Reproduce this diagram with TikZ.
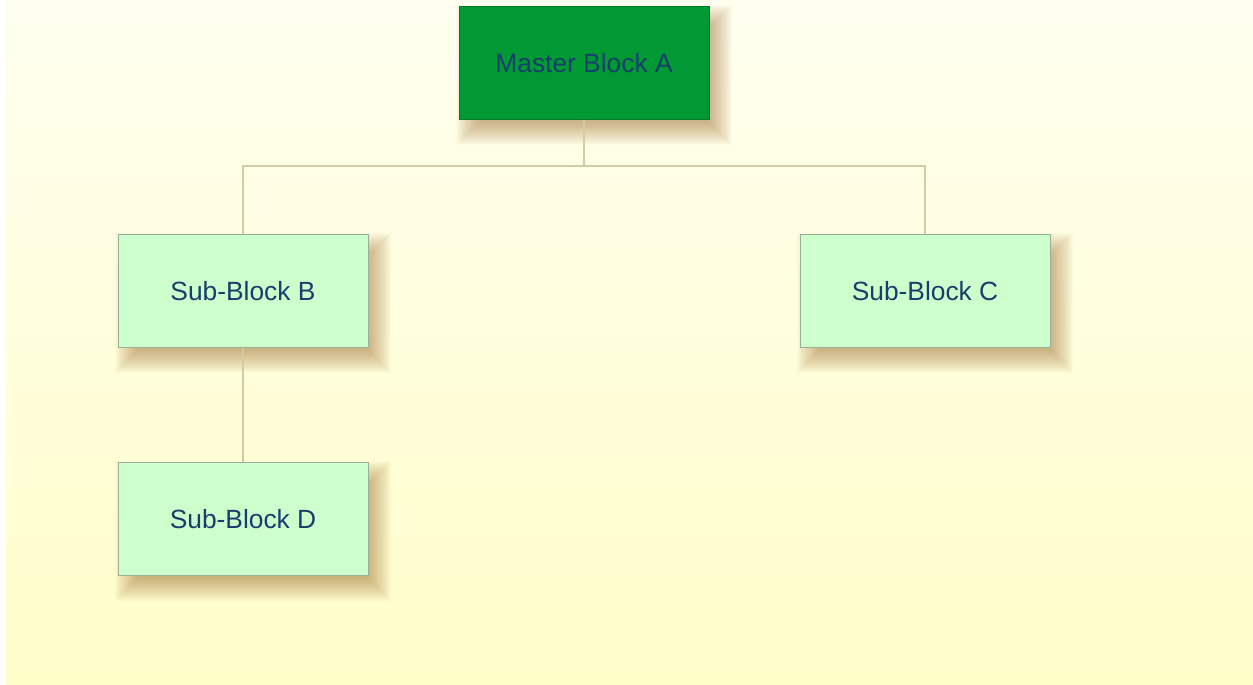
\documentclass[tikz,border=0pt]{standalone}
\usepackage{fontspec}
\setmainfont{Liberation Sans}
\usetikzlibrary{positioning,backgrounds}
\definecolor{bgtop}{HTML}{FFFFF0}
\definecolor{bgmid}{HTML}{FFFED4}
\definecolor{bgbottom}{HTML}{FFFDC8}
\definecolor{masterfill}{HTML}{009933}
\definecolor{subfill}{HTML}{CCFFCC}
\definecolor{subline}{HTML}{9AAE9A}
\definecolor{blocktext}{HTML}{173E6C}
\definecolor{treeline}{HTML}{D2CCA6}
\definecolor{shadowtan}{HTML}{A87838}
\begin{document}
\begin{tikzpicture}[x=0.02cm,y=-0.02cm]%
        %\draw[step=50,color=gray,very thin] (0,0) grid (1253,685);%%
        \useasboundingbox (0,0) rectangle (1253,685); %%
        \begin{scope}[shape=rectangle,minimum width=5cm,minimum height=2.26cm,inner sep=0pt]
        \tikzstyle{every node}=[font=\fontsize{15}{18}\selectfont,text=blocktext] %%
        \node[fill=masterfill,draw=masterfill!80!black] (a) at (584,63)  {Master Block A}; %%
        \node[fill=subfill,draw=subline] (b) at (243,291)  {Sub-Block B}; %%
        \node[fill=subfill,draw=subline] (c) at (925,291)  {Sub-Block C}; %%
        \node[fill=subfill,draw=subline] (d) at (243,519)  {Sub-Block D}; %%
        \end{scope}
        \begin{scope}[on background layer]
        \shade[top color=bgtop,middle color=bgmid,bottom color=bgbottom] (6,0) rectangle (1253,685); %%
        \foreach \n in {a,b,c,d}
          \foreach \k in {0,...,23}
            \fill[shadowtan,opacity=0.028] ([shift={(20-\k,22-\k)}]\n.north west) rectangle ([shift={(\k,2+\k)}]\n.south east); %%
        \end{scope}
        \coordinate (j) at (584,166); %%
        \draw[treeline,line width=0.6pt] (a)--(j);  %%
        \draw[treeline,line width=0.6pt] (b)|-(j)-|(c);  %%
        \draw[treeline,line width=0.6pt] (b)--(d);  %%
        \end{tikzpicture}
\end{document}
